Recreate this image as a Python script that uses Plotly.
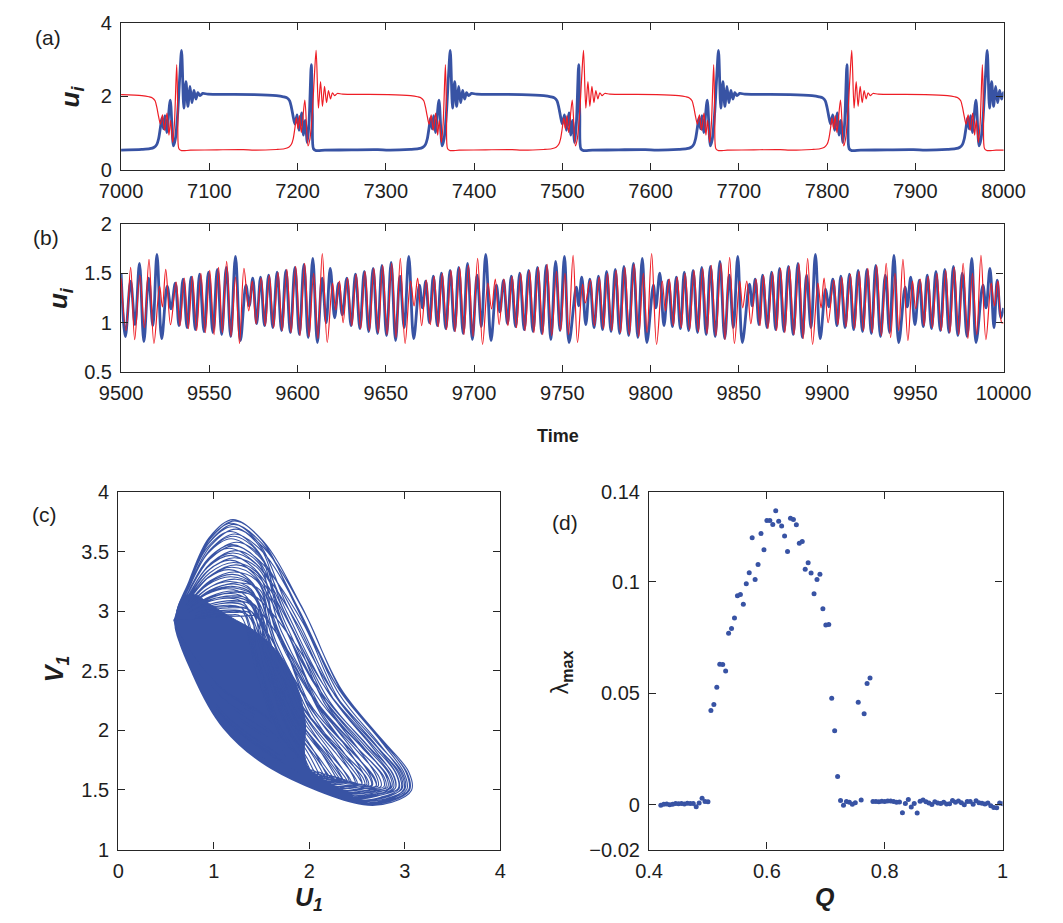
import plotly.graph_objects as go

W, H = 1063, 923
BLUE = '#3853A4'
RED = '#EE1D25'
AXC = '#262626'
FONT = 'Liberation Sans, Arial, Helvetica, sans-serif'

# ---------------- panel (a) data ----------------
a_event_time = [7068.5, 7221.0, 7373.0, 7524.0, 7677.0, 7828.0, 7981.5]
a_event_riser = ['blue', 'red', 'blue', 'red', 'blue', 'red', 'blue']
a_rise_dt = [-70, -45, -36, -31, -28, -26, -24, -22.3, -20.5, -18.8, -16.8, -12.8, -9.2, -7, -4.5, -2, 0,
             2.6, 5.0, 7.2, 9.5, 11.8, 14.0, 16.3, 18.5, 21, 24, 30]
a_rise_u = [0.54, 0.56, 0.58, 0.62, 0.70, 0.85, 1.15, 1.42, 1.12, 1.48, 1.02, 1.90, 0.66, 0.85, 1.5, 2.55, 3.25,
            1.68, 2.40, 1.73, 2.27, 1.83, 2.16, 1.93, 2.10, 2.02, 2.08, 2.06]
a_fall_dt = [-70, -45, -37, -33, -30, -28, -26, -24, -21.6, -19.3, -16.5, -14.3, -12.5, -10, -8, -5.5, -4.2, -3, 0, 10, 40, 70]
a_fall_u = [2.05, 2.02, 1.99, 1.96, 1.88, 1.70, 1.45, 1.25, 1.50, 1.08, 1.55, 0.95, 1.35, 0.75, 1.3, 2.86, 1.5, 0.58, 0.53, 0.54, 0.55, 0.555]

# ---------------- panel (b) data ----------------
b_blue_t = [9500.0, 9502.4, 9505.4, 9507.9, 9510.4, 9512.9, 9515.6, 9518.0, 9520.3, 9523.0, 9526.1, 9528.3, 9530.7, 9532.8,
            9535.1, 9537.4, 9539.7, 9542.1, 9544.5, 9547.0, 9549.5, 9552.0, 9554.5, 9557.0, 9559.6, 9562.1, 9564.8, 9567.6,
            9570.7, 9572.6, 9574.6, 9576.8, 9579.0, 9581.3, 9583.6, 9586.0, 9588.4, 9590.9, 9593.4, 9595.9, 9598.5, 9601.0,
            9603.6, 9606.0, 9608.6, 9611.2, 9613.9, 9616.2, 9618.5, 9621.0, 9623.2, 9625.3, 9627.9, 9630.3, 9632.8, 9635.3,
            9637.8, 9640.3, 9642.8, 9645.3, 9647.8, 9650.4, 9653.0, 9655.5, 9658.0, 9660.4, 9663.0, 9665.8, 9669.0, 9670.8,
            9672.6, 9674.7, 9676.9, 9679.2, 9681.5, 9684.0, 9686.4, 9688.9, 9691.3, 9693.8, 9696.3, 9699.0, 9701.7, 9704.1,
            9706.6, 9709.6, 9712.6, 9714.6, 9716.7, 9718.9, 9721.1, 9723.5, 9725.9, 9728.4, 9730.9, 9733.4, 9735.9, 9738.4,
            9740.9, 9743.5, 9746.2, 9748.7, 9751.2, 9753.8, 9757.9, 9759.2, 9761.0, 9763.3, 9765.6, 9768.0, 9770.5, 9772.8,
            9775.1, 9777.6, 9780.0, 9782.5, 9784.9, 9787.6, 9790.3, 9792.8, 9795.3, 9797.9, 9801.6, 9803.0, 9805.2, 9807.6,
            9810.1, 9812.4, 9814.6, 9816.9, 9819.1, 9821.6, 9824.1, 9826.6, 9829.0, 9831.5, 9833.9, 9836.6, 9839.3, 9842.0,
            9844.6, 9846.9, 9849.4, 9852.0, 9856.0, 9857.6, 9859.3, 9861.4, 9863.5, 9866.0, 9868.6, 9870.9, 9873.1, 9875.6,
            9878.1, 9880.8, 9883.5, 9886.0, 9888.4, 9890.9, 9893.4, 9896.1, 9899.2, 9901.0, 9903.3, 9905.6, 9907.8, 9910.2,
            9912.7, 9915.1, 9917.6, 9920.1, 9922.6, 9925.1, 9927.6, 9930.3, 9933.0, 9935.4, 9937.9, 9940.6, 9944.2, 9945.5,
            9947.4, 9949.8, 9952.3, 9954.5, 9956.8, 9959.2, 9961.7, 9964.2, 9966.7, 9969.1, 9971.6, 9974.1, 9976.6, 9979.3,
            9982.0, 9984.4, 9988.3, 9990.1, 9992.3, 9994.6, 9996.4, 9998.5, 10000.0]
b_blue_u = [1.50, 0.86, 1.42, 0.98, 1.60, 0.81, 1.45, 0.97, 1.69, 0.84, 1.37, 1.14, 1.40, 0.97,
            1.44, 0.95, 1.46, 0.93, 1.49, 0.91, 1.51, 0.90, 1.54, 0.88, 1.56, 0.86, 1.67, 0.82,
            1.38, 1.17, 1.45, 0.99, 1.46, 0.97, 1.48, 0.95, 1.51, 0.92, 1.53, 0.90, 1.56, 0.88,
            1.59, 0.85, 1.65, 0.80, 1.45, 1.00, 1.55, 1.05, 1.40, 1.08, 1.45, 0.97, 1.49, 0.94,
            1.52, 0.91, 1.55, 0.89, 1.58, 0.87, 1.61, 0.82, 1.47, 0.95, 1.67, 0.84, 1.38, 1.15,
            1.42, 1.00, 1.47, 0.97, 1.50, 0.94, 1.53, 0.92, 1.56, 0.89, 1.60, 0.83, 1.48, 0.96,
            1.69, 0.82, 1.38, 1.11, 1.43, 0.99, 1.47, 0.96, 1.50, 0.93, 1.53, 0.91, 1.56, 0.89,
            1.58, 0.83, 1.62, 0.92, 1.67, 0.80, 1.36, 1.17, 1.46, 0.98, 1.44, 0.95, 1.47, 0.93,
            1.52, 0.91, 1.54, 0.89, 1.57, 0.87, 1.60, 0.85, 1.65, 0.80, 1.38, 1.15, 1.50, 0.97,
            1.43, 0.96, 1.46, 0.94, 1.51, 0.92, 1.53, 0.90, 1.56, 0.88, 1.57, 0.86, 1.62, 0.84,
            1.48, 0.95, 1.67, 0.80, 1.39, 1.17, 1.44, 0.98, 1.48, 0.95, 1.51, 0.93, 1.55, 0.91,
            1.57, 0.88, 1.60, 0.85, 1.48, 0.95, 1.69, 0.84, 1.34, 1.16, 1.44, 0.97, 1.47, 0.95,
            1.49, 0.93, 1.53, 0.91, 1.54, 0.89, 1.58, 0.86, 1.48, 0.90, 1.68, 0.80, 1.36, 1.16,
            1.46, 0.98, 1.43, 0.96, 1.48, 0.94, 1.52, 0.92, 1.54, 0.90, 1.57, 0.87, 1.50, 0.86,
            1.65, 0.80, 1.38, 1.15, 1.55, 0.95, 1.43, 1.05, 1.15]
b_red_t = [9500.0, 9502.8, 9505.4, 9507.7, 9510.6, 9513.2, 9515.8, 9518.6, 9521.8, 9523.4, 9525.3, 9528.0, 9531.2, 9533.4,
           9535.8, 9538.1, 9540.4, 9542.8, 9545.2, 9547.7, 9550.2, 9552.7, 9555.2, 9557.4, 9559.8, 9562.3, 9564.8, 9567.1,
           9569.6, 9572.3, 9574.3, 9576.5, 9579.4, 9581.7, 9584.0, 9586.4, 9588.9, 9591.3, 9593.9, 9596.3, 9598.9, 9601.4,
           9604.0, 9606.5, 9609.1, 9611.5, 9614.0, 9616.8, 9619.8, 9621.6, 9623.7, 9625.8, 9628.3, 9630.7, 9633.2, 9635.7,
           9638.2, 9640.7, 9643.2, 9645.7, 9648.2, 9650.7, 9653.3, 9655.8, 9658.2, 9660.9, 9664.0, 9666.0, 9668.0, 9670.3,
           9672.9, 9675.2, 9677.4, 9679.7, 9682.0, 9684.4, 9686.9, 9689.3, 9691.8, 9694.3, 9696.8, 9699.4, 9702.0, 9704.8,
           9707.8, 9709.9, 9712.0, 9714.2, 9716.9, 9719.2, 9721.6, 9724.0, 9726.4, 9728.9, 9731.4, 9733.9, 9736.4, 9738.9,
           9741.4, 9744.0, 9746.7, 9749.0, 9751.5, 9753.5, 9756.1, 9758.6, 9761.5, 9763.0, 9765.9, 9768.2, 9770.9, 9773.3,
           9775.6, 9778.0, 9780.5, 9783.0, 9785.4, 9788.0, 9790.7, 9793.3, 9795.9, 9798.0, 9800.6, 9803.4, 9806.6, 9808.4,
           9810.6, 9812.9, 9815.1, 9817.4, 9819.6, 9822.1, 9824.6, 9827.1, 9829.5, 9832.0, 9834.4, 9837.0, 9839.8, 9842.2,
           9844.8, 9847.5, 9850.5, 9852.2, 9854.5, 9856.8, 9859.7, 9862.0, 9864.0, 9866.5, 9869.1, 9871.4, 9873.6, 9876.1,
           9878.6, 9881.3, 9884.0, 9886.5, 9889.0, 9891.8, 9894.8, 9896.6, 9898.3, 9900.6, 9903.8, 9906.1, 9908.3, 9910.7,
           9913.2, 9915.6, 9918.1, 9920.6, 9923.1, 9925.6, 9928.1, 9930.8, 9933.5, 9936.0, 9938.5, 9940.6, 9943.0, 9945.8,
           9948.4, 9950.2, 9952.8, 9955.0, 9957.3, 9959.7, 9962.2, 9964.7, 9967.2, 9969.6, 9972.1, 9974.6, 9977.1, 9979.8,
           9982.4, 9984.8, 9987.2, 9990.0, 9993.0, 9994.8, 9996.8, 9999.0, 10000.0]
b_red_u = [1.45, 0.92, 1.56, 0.83, 1.48, 0.95, 1.64, 0.79, 1.37, 1.16, 1.54, 0.98, 1.41, 0.97,
           1.45, 0.94, 1.47, 0.92, 1.50, 0.90, 1.53, 0.88, 1.56, 0.90, 1.62, 0.86, 1.46, 0.79,
           1.55, 1.12, 1.42, 0.99, 1.45, 0.97, 1.48, 0.95, 1.51, 0.92, 1.54, 0.90, 1.57, 0.87,
           1.60, 0.86, 1.50, 0.84, 1.70, 0.80, 1.40, 1.13, 1.42, 1.00, 1.45, 0.97, 1.49, 0.94,
           1.52, 0.92, 1.55, 0.90, 1.58, 0.88, 1.60, 0.85, 1.65, 0.79, 1.42, 1.17, 1.45, 0.97,
           1.43, 0.98, 1.47, 0.96, 1.50, 0.93, 1.53, 0.91, 1.56, 0.88, 1.58, 0.86, 1.65, 0.78,
           1.40, 1.14, 1.44, 0.98, 1.44, 0.97, 1.47, 0.95, 1.50, 0.92, 1.53, 0.90, 1.56, 0.88,
           1.59, 0.87, 1.52, 0.92, 1.50, 0.88, 1.68, 0.80, 1.39, 1.20, 1.43, 0.97, 1.46, 0.94,
           1.50, 0.92, 1.53, 0.90, 1.56, 0.88, 1.59, 0.86, 1.50, 0.90, 1.70, 0.78, 1.42, 1.12,
           1.44, 0.97, 1.46, 0.95, 1.50, 0.93, 1.53, 0.91, 1.55, 0.89, 1.58, 0.87, 1.60, 0.83,
           1.66, 0.79, 1.42, 1.15, 1.42, 0.99, 1.44, 0.97, 1.48, 0.94, 1.51, 0.92, 1.55, 0.90,
           1.57, 0.88, 1.60, 0.84, 1.65, 0.78, 1.40, 1.15, 1.45, 1.00, 1.43, 0.98, 1.46, 0.96,
           1.49, 0.94, 1.52, 0.92, 1.55, 0.90, 1.58, 0.87, 1.60, 0.85, 1.50, 0.92, 1.64, 0.82,
           1.42, 1.14, 1.44, 0.97, 1.47, 0.95, 1.50, 0.92, 1.53, 0.90, 1.56, 0.88, 1.60, 0.84,
           1.50, 0.88, 1.68, 0.83, 1.40, 1.17, 1.42, 1.00, 1.00]

# ---------------- panel (c) data ----------------
c_loop_top_v = [3.77, 3.76, 3.74, 3.73, 3.71, 3.69, 3.67, 3.65, 3.63, 3.61, 3.58, 3.56, 3.55, 3.53, 3.51, 3.49, 3.47,
                3.45, 3.43, 3.41, 3.39, 3.37, 3.35, 3.33, 3.31, 3.29, 3.27, 3.25, 3.23, 3.21, 3.19, 3.17, 3.15, 3.13,
                3.11, 3.09, 3.07, 3.05, 3.03, 3.01, 2.99, 2.97, 3.24, 3.20, 3.16, 3.12, 3.08, 3.04, 3.00, 2.96]
c_loop_top_u = [1.20, 1.22, 1.18, 1.21, 1.19, 1.23, 1.17, 1.22, 1.20, 1.18, 1.24, 1.19, 1.21, 1.16, 1.23, 1.20, 1.18,
                1.22, 1.17, 1.21, 1.24, 1.19, 1.16, 1.22, 1.20, 1.18, 1.23, 1.17, 1.21, 1.19, 1.15, 1.22, 1.18, 1.20,
                1.16, 1.21, 1.19, 1.17, 1.22, 1.18, 1.20, 1.16, 1.26, 1.14, 1.25, 1.13, 1.27, 1.15, 1.24, 1.28]
c_loop_right_u = [3.07, 3.04, 3.00, 3.05, 2.97, 3.02, 2.93, 2.99, 2.90, 2.96, 2.86, 2.94, 2.82, 2.90, 2.78, 2.88, 2.72,
                  2.84, 2.66, 2.80, 2.60, 2.75, 2.55, 2.70, 2.48, 2.65, 2.42, 2.58, 2.36, 2.50, 2.30, 2.44, 2.22, 2.36,
                  2.15, 2.28, 2.08, 2.00, 2.20, 1.98, 2.12, 1.95, 2.62, 2.85, 2.40, 2.70, 2.25, 2.55, 2.05, 2.35]
c_loop_bulge = [0.00, 0.04, -0.03, 0.02, -0.05, 0.06, -0.02, 0.05, -0.06, 0.03, -0.04, 0.07, -0.01, 0.05, -0.07, 0.02,
                0.06, -0.04, 0.04, -0.06, 0.07, -0.02, 0.03, -0.05, 0.06, -0.03, 0.01, -0.06, 0.05, -0.02, 0.04, -0.05,
                0.06, -0.01, 0.03, -0.04, 0.02, 0.00, 0.05, -0.03, 0.04, -0.02, -0.07, 0.08, -0.06, 0.07, -0.05, 0.06,
                -0.04, 0.05]
c_loop_return_shift = [0.00, 0.03, 0.06, 0.01, 0.09, 0.04, 0.12, 0.02, 0.15, 0.05, 0.18, 0.07, 0.20, 0.08, 0.22, 0.10,
                       0.24, 0.12, 0.26, 0.14, 0.28, 0.15, 0.30, 0.17, 0.32, 0.19, 0.33, 0.21, 0.34, 0.23, 0.35, 0.25,
                       0.36, 0.27, 0.37, 0.29, 0.38, 0.40, 0.30, 0.36, 0.26, 0.33, 0.10, 0.05, 0.20, 0.08, 0.25, 0.14,
                       0.30, 0.18]
c_core_u = [0.58, 0.66, 0.77, 0.90, 1.03, 1.18, 1.34, 1.52, 1.72, 1.92, 2.12, 2.30,
            2.20, 2.02, 1.95, 1.96, 1.90, 1.78, 1.62, 1.42, 1.18, 0.96, 0.80, 0.68, 0.61]
c_core_v = [2.93, 2.72, 2.50, 2.30, 2.14, 2.00, 1.87, 1.76, 1.66, 1.58, 1.52, 1.48,
            1.56, 1.64, 1.80, 2.05, 2.30, 2.52, 2.70, 2.84, 2.95, 3.06, 3.14, 3.12, 3.00]

# ---------------- panel (d) data ----------------
d_Q = [round(0.42 + 0.005 * i, 3) for i in range(117)]
d_lambda = [-0.0002, 0.0003, 0.0004, 0.0000, 0.0003, 0.0006, 0.0005, 0.0006, 0.0004, 0.0007, 0.0006, 0.0006, -0.0008,
            0.0008, 0.0030, 0.0015, 0.0014, 0.0423, 0.0450, 0.0527, 0.0630, 0.0629, 0.0600, 0.0769, 0.0790, 0.0837,
            0.0936, 0.0942, 0.0898, 0.0990, 0.1040, 0.1196, 0.1009, 0.1077, 0.1215, 0.1143, 0.1273, 0.1273, 0.1256,
            0.1317, 0.1270, 0.1249, 0.1204, 0.1135, 0.1284, 0.1278, 0.1255, 0.1172, 0.1179, 0.1055, 0.1084, 0.1038,
            0.0946, 0.1009, 0.1033, 0.0878, 0.0805, 0.0808, 0.0478, 0.0332, 0.0127, 0.0020, -0.0002, 0.0015, 0.0012,
            0.0003, 0.0010, 0.0459, 0.0022, 0.0408, 0.0543, 0.0568, 0.0015, 0.0015, 0.0014, 0.0016, 0.0015, 0.0017,
            0.0017, 0.0015, 0.0012, 0.0013, -0.0035, 0.0006, 0.0024, -0.0010, 0.0006, -0.0036, 0.0016, 0.0022, 0.0014,
            0.0008, 0.0002, 0.0014, 0.0008, 0.0006, 0.0012, 0.0004, 0.0005, 0.0020, 0.0012, 0.0017, 0.0010, 0.0000,
            0.0015, 0.0015, 0.0003, 0.0018, 0.0010, 0.0007, 0.0004, 0.0008, -0.0004, -0.0012, -0.0013, 0.0008, 0.0005]

# ---------------- build series for (a) ----------------
series_a = {'blue': [], 'red': []}
for t0, riser in zip(a_event_time, a_event_riser):
    faller = 'red' if riser == 'blue' else 'blue'
    series_a[riser] += [(t0 + d, u) for d, u in zip(a_rise_dt, a_rise_u)]
    series_a[faller] += [(t0 + d, u) for d, u in zip(a_fall_dt, a_fall_u)]
for k in series_a:
    series_a[k].sort()

# ---------------- build loops for (c) ----------------
cu, cv = [], []
for vt, tu, ur, kb, sh in zip(c_loop_top_v, c_loop_top_u, c_loop_right_u, c_loop_bulge, c_loop_return_shift):
    h = vt - 2.92
    w = ur - 1.2
    b = vt - 1.45
    pts = [(0.60, 2.92), (0.74 + 0.2 * (tu - 1.2), 2.92 + 0.39 * h), (0.95 + 0.6 * (tu - 1.2), 2.92 + 0.82 * h),
           (tu, vt),
           (tu + 0.16 * w, 2.92 + 0.80 * h), (1.2 + (0.35 + kb) * w, 1.45 + 0.69 * b),
           (1.2 + (0.59 + 0.6 * kb) * w, 1.45 + 0.39 * b), (1.2 + (0.84 + 0.3 * kb) * w, 1.45 + 0.20 * b),
           (1.2 + 0.985 * w, 1.45 + 0.086 * b), (ur, 1.50 + 0.10 * (3.05 - ur)),
           (1.2 + 0.89 * w, 1.40 + 0.17 * (3.05 - ur) + 0.3 * sh),
           (1.2 + 0.73 * w, 1.38 + 0.20 * (3.05 - ur) + 0.3 * sh),
           (1.60, 1.68 + sh), (1.10, 2.02 + 0.8 * sh), (0.78, 2.47 + 0.4 * sh)]
    for p in pts:
        cu.append(p[0]); cv.append(p[1])
cu.append(0.60); cv.append(2.92)

fig = go.Figure()

fig.add_trace(go.Scatter(x=[p[0] for p in series_a['blue']], y=[p[1] for p in series_a['blue']],
                         mode='lines', line=dict(color=BLUE, width=2.8, shape='spline', smoothing=0.8),
                         xaxis='x', yaxis='y', showlegend=False))
fig.add_trace(go.Scatter(x=[p[0] for p in series_a['red']], y=[p[1] for p in series_a['red']],
                         mode='lines', line=dict(color=RED, width=1.2, shape='spline', smoothing=0.8),
                         xaxis='x', yaxis='y', showlegend=False))

fig.add_trace(go.Scatter(x=b_blue_t, y=b_blue_u, mode='lines',
                         line=dict(color=BLUE, width=2.8, shape='spline', smoothing=1.0),
                         xaxis='x2', yaxis='y2', showlegend=False))
fig.add_trace(go.Scatter(x=b_red_t, y=b_red_u, mode='lines',
                         line=dict(color=RED, width=1.2, shape='spline', smoothing=1.0),
                         xaxis='x2', yaxis='y2', showlegend=False))

fig.add_trace(go.Scatter(x=c_core_u, y=c_core_v, mode='lines', fill='toself', fillcolor=BLUE,
                         line=dict(color=BLUE, width=1, shape='spline'),
                         xaxis='x3', yaxis='y3', showlegend=False))
fig.add_trace(go.Scatter(x=cu, y=cv, mode='lines',
                         line=dict(color=BLUE, width=1.1, shape='spline', smoothing=1.0),
                         xaxis='x3', yaxis='y3', showlegend=False))

fig.add_trace(go.Scatter(x=d_Q, y=d_lambda, mode='markers',
                         marker=dict(color=BLUE, size=5),
                         xaxis='x4', yaxis='y4', showlegend=False))


def px_x(x):
    return x / W


def px_y(y):
    return 1 - y / H


def axis(domain, rng, vals, texts, anchor):
    return dict(domain=domain, range=rng, tickmode='array', tickvals=vals, ticktext=texts,
                ticks='inside', ticklen=7, tickwidth=1, tickcolor=AXC,
                showline=True, linecolor=AXC, linewidth=1.3, mirror='allticks',
                showgrid=False, zeroline=False, anchor=anchor,
                tickfont=dict(family=FONT, size=20, color='#1e1e1e'))


xa_dom = [px_x(104), px_x(1030)]
fig.update_layout(
    width=W, height=H, margin=dict(l=0, r=0, t=0, b=0),
    paper_bgcolor='white', plot_bgcolor='white',
    xaxis=axis(xa_dom, [7000, 8000], list(range(7000, 8001, 100)), [str(v) for v in range(7000, 8001, 100)], 'y'),
    yaxis=axis([px_y(163), px_y(12)], [0, 4], [0, 2, 4], ['0', '2', '4'], 'x'),
    xaxis2=axis(xa_dom, [9500, 10000], list(range(9500, 10001, 50)), [str(v) for v in range(9500, 10001, 50)], 'y2'),
    yaxis2=axis([px_y(370), px_y(218)], [0.5, 2], [0.5, 1, 1.5, 2], ['0.5', '1', '1.5', '2'], 'x2'),
    xaxis3=axis([px_x(101), px_x(502)], [0, 4], [0, 1, 2, 3, 4], ['0', '1', '2', '3', '4'], 'y3'),
    yaxis3=axis([px_y(859), px_y(493)], [1, 4], [1, 1.5, 2, 2.5, 3, 3.5, 4], ['1', '1.5', '2', '2.5', '3', '3.5', '4'], 'x3'),
    xaxis4=axis([px_x(658), px_x(1029)], [0.4, 1.0], [0.4, 0.6, 0.8, 1.0], ['0.4', '0.6', '0.8', '1'], 'y4'),
    yaxis4=axis([px_y(859), px_y(493)], [-0.02, 0.14], [-0.02, 0, 0.05, 0.1, 0.14], ['\u22120.02', '0', '0.05', '0.1', '0.14'], 'x4'),
)
for ya in ['yaxis', 'yaxis2', 'yaxis3', 'yaxis4']:
    fig.layout[ya].ticklabelstandoff = 4
for xa in ['xaxis', 'xaxis2', 'xaxis3', 'xaxis4']:
    fig.layout[xa].ticklabelstandoff = 3


def ann(x, y, text, size, angle=0):
    fig.add_annotation(x=px_x(x), y=px_y(y), xref='paper', yref='paper', text=text, showarrow=False,
                       textangle=angle, xanchor='center', yanchor='middle',
                       font=dict(family=FONT, size=size, color='#1e1e1e'))


ann(27, 27, '(a)', 21)
ann(25, 232, '(b)', 21)
ann(24, 516, '(c)', 21)
ann(570, 524, '(d)', 21)
ann(52, 88, '<b><i>u</i></b><sub><b><i>i</i></b></sub>', 26, -90)
ann(40, 294, '<b><i>u</i></b><sub><b><i>i</i></b></sub>', 26, -90)
ann(562, 435, '<b>Time</b>', 18)
ann(36, 674, '<b><i>V</i></b><sub><b><i>1</i></b></sub>', 25, -90)
ann(301, 910, '<b><i>U</i></b><sub><b><i>1</i></b></sub>', 25)
ann(567, 677, '\u03bb<sub><b>max</b></sub>', 23, -90)
ann(843, 908, '<b><i>Q</i></b>', 25)

fig.write_html('out.html', config={'displayModeBar': False},
               post_script="document.body.style.margin='0';document.body.style.overflow='hidden';")
